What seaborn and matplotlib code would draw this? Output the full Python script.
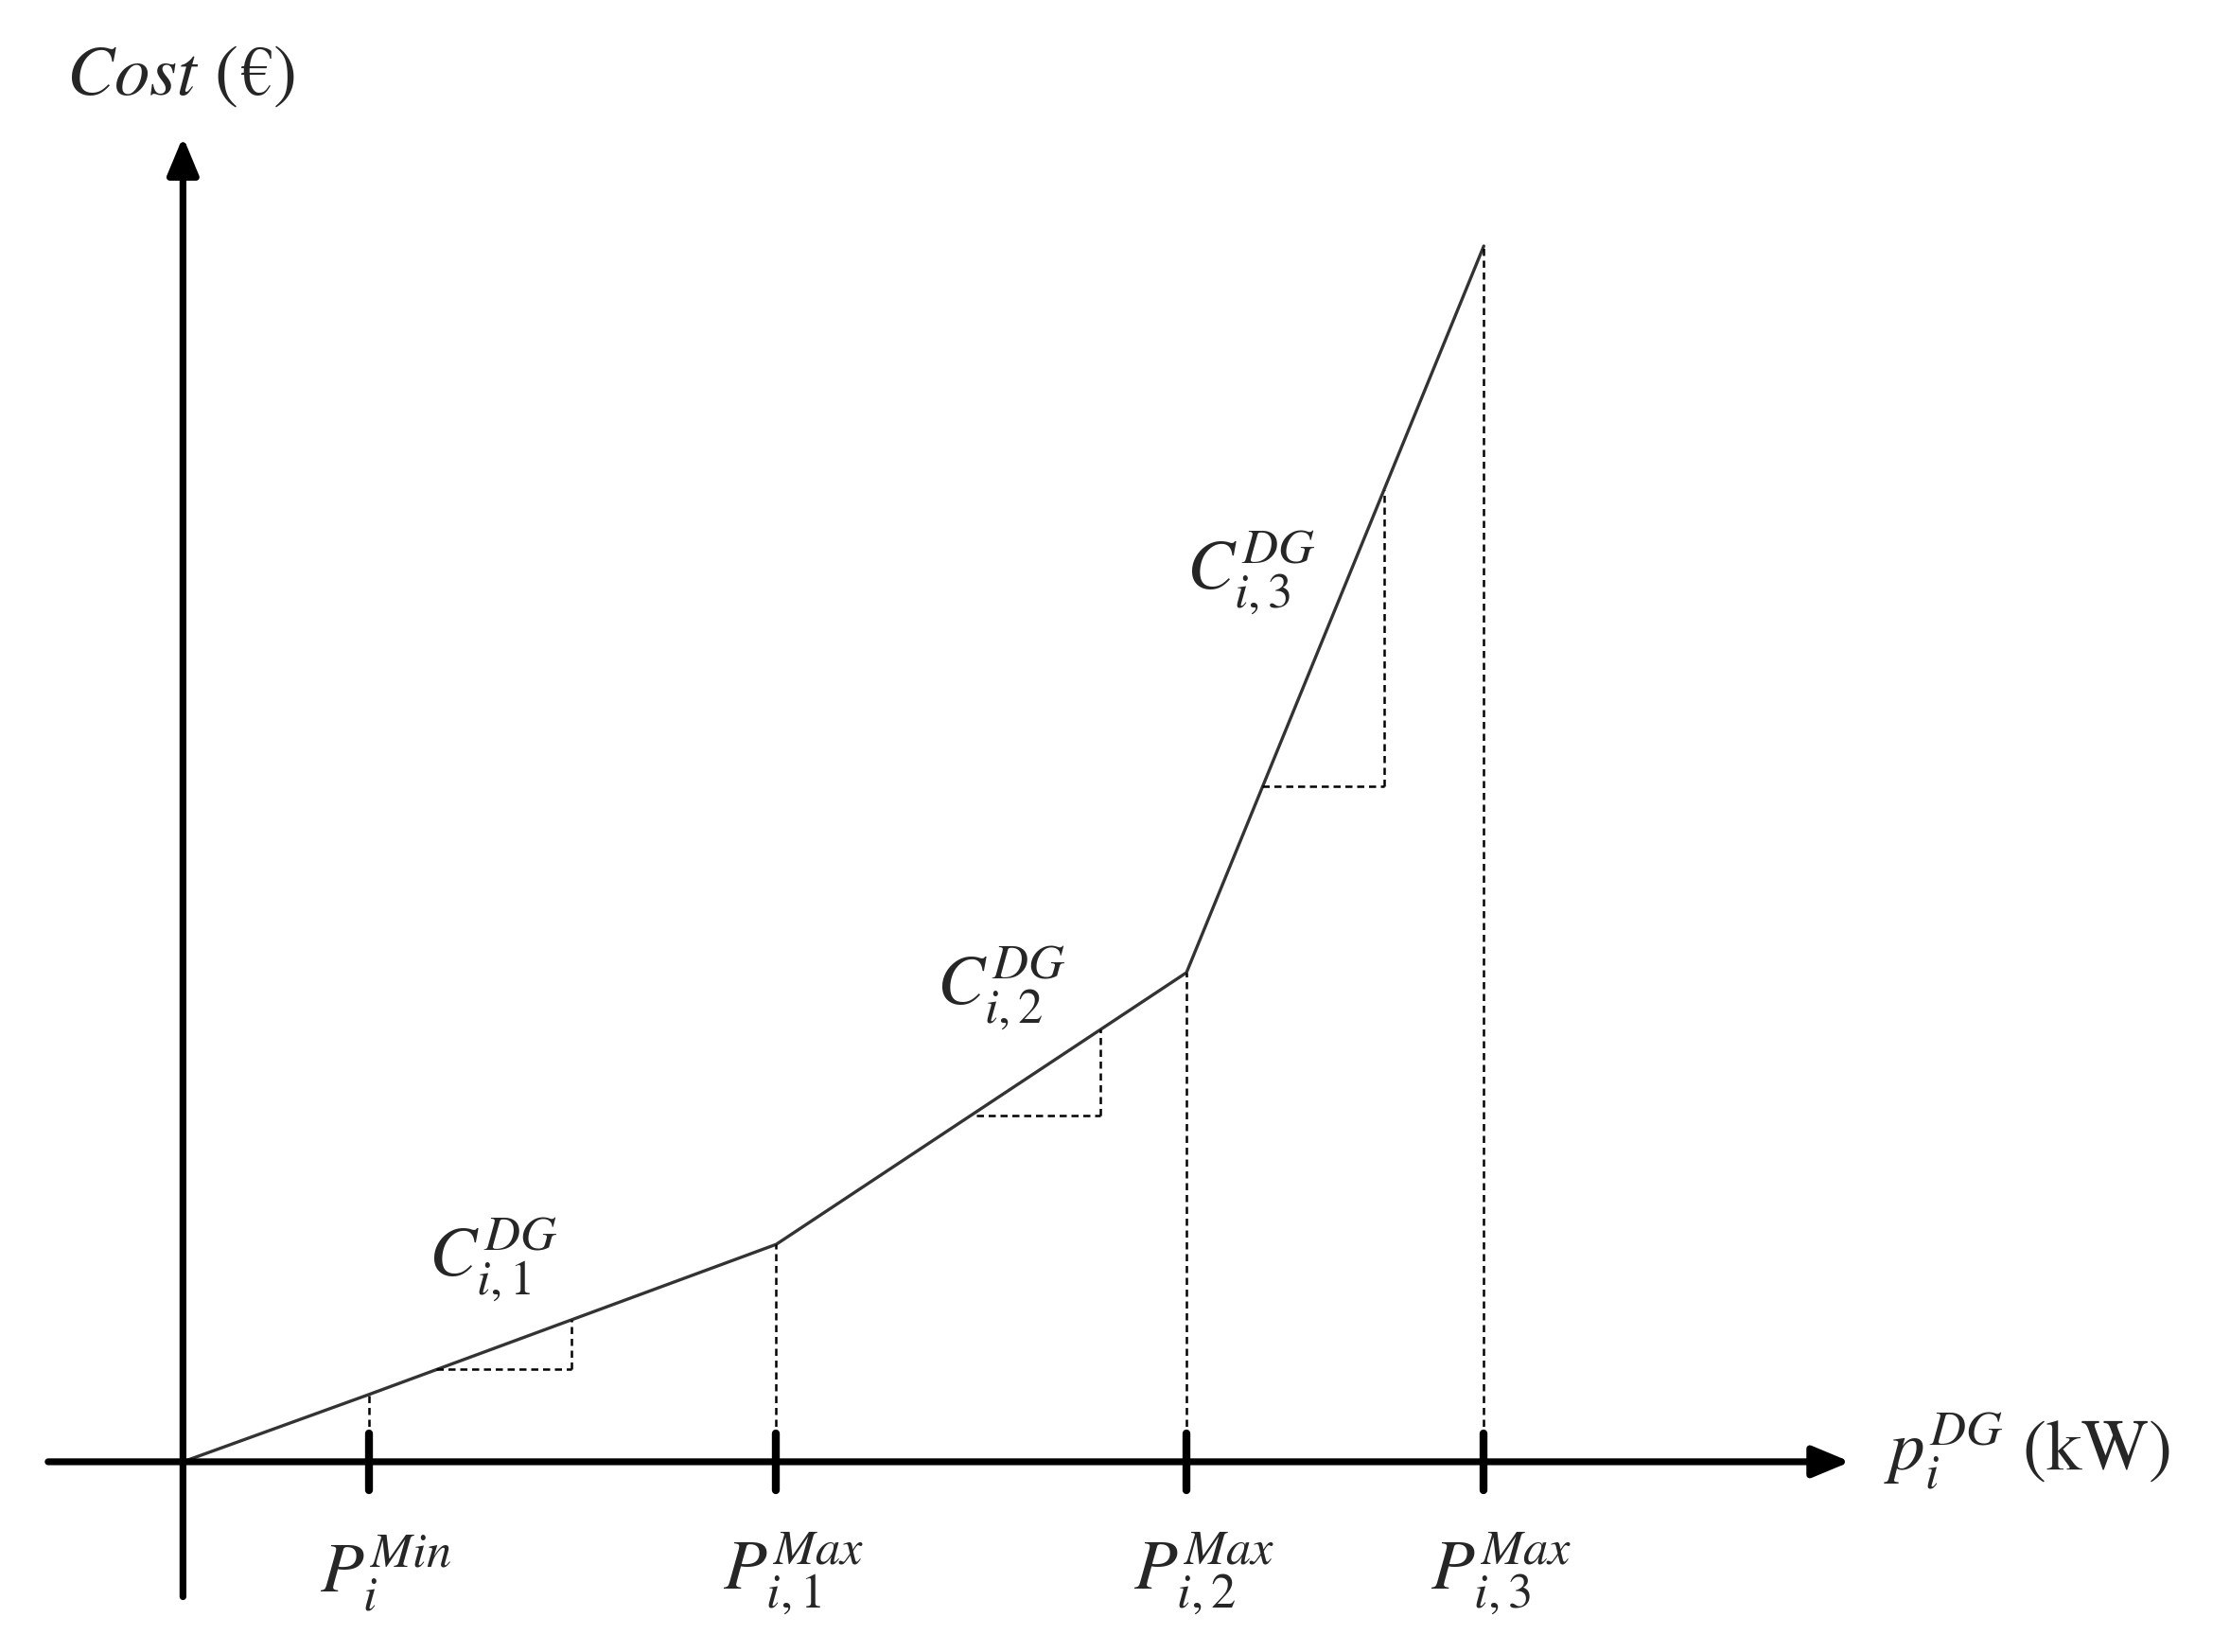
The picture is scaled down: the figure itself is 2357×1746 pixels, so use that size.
import matplotlib
matplotlib.use("Agg")
import matplotlib.pyplot as plt
import seaborn as sns
import pandas as pd

# breakpoints of the piecewise linear cost curve (arbitrary units)
power = [0, 130, 415, 702, 910]
cost = [0, 47, 152, 342, 850]
tick_pos = [130, 415, 702, 910]
tick_labels = [r"$P_i^{Min}$", r"$P_{i,1}^{Max}$", r"$P_{i,2}^{Max}$", r"$P_{i,3}^{Max}$"]
# slope triangles: (x start, x end, y base)
triangles = [(177, 272, 65), (555, 642, 242), (755, 840, 472)]
seg_labels = [r"$C_{i,1}^{DG}$", r"$C_{i,2}^{DG}$", r"$C_{i,3}^{DG}$"]
seg_label_pos = [(217, 142), (572, 332), (747, 622)]

sns.set_style("white")
plt.rcParams["mathtext.fontset"] = "stix"
plt.rcParams["font.family"] = ["STIXGeneral", "DejaVu Serif"]

fig = plt.figure(figsize=(11.785, 8.73), dpi=200)
ax = fig.add_axes([0, 0, 1, 1])
ax.set_xlim(-128, 1432)
ax.set_ylim(-133, 1022)
ax.axis("off")

df = pd.DataFrame({"power": power, "cost": cost})
sns.lineplot(data=df, x="power", y="cost", color="#333333", lw=1.2, ax=ax)

def line_at(x):
    for i in range(len(power) - 1):
        if power[i] <= x <= power[i + 1]:
            t = (x - power[i]) / (power[i + 1] - power[i])
            return cost[i] + t * (cost[i + 1] - cost[i])
    return cost[-1]

dash = dict(color="black", lw=0.9, ls=(0, (3, 2)))
for xp in tick_pos:
    ax.plot([xp, xp], [0, line_at(xp)], **dash)
for x0, x1, yb in triangles:
    ax.plot([x0, x1], [yb, yb], **dash)
    ax.plot([x1, x1], [yb, line_at(x1)], **dash)

for (lx, ly), lab in zip(seg_label_pos, seg_labels):
    ax.text(lx, ly, lab, fontsize=27, ha="center", va="center")

# axes arrows
ax.annotate("", xy=(1170, 0), xytext=(-98, 0),
            arrowprops=dict(arrowstyle="-|>,head_length=1.2,head_width=0.5", lw=2.6, color="black"))
ax.annotate("", xy=(0, 930), xytext=(0, -98),
            arrowprops=dict(arrowstyle="-|>,head_length=1.2,head_width=0.5", lw=2.6, color="black"))

for xp, lab in zip(tick_pos, tick_labels):
    ax.plot([xp, xp], [-20, 20], color="black", lw=3)
    ax.text(xp + 12, -78, lab, fontsize=27, ha="center", va="center")

ax.text(-82, 968, r"$Cost$ (€)", fontsize=27, ha="left", va="center")
ax.text(1190, 8, r"$p_i^{DG}$ (kW)", fontsize=27, ha="left", va="center")

fig.savefig("out.png", dpi=200, facecolor="white")
plt.close(fig)
